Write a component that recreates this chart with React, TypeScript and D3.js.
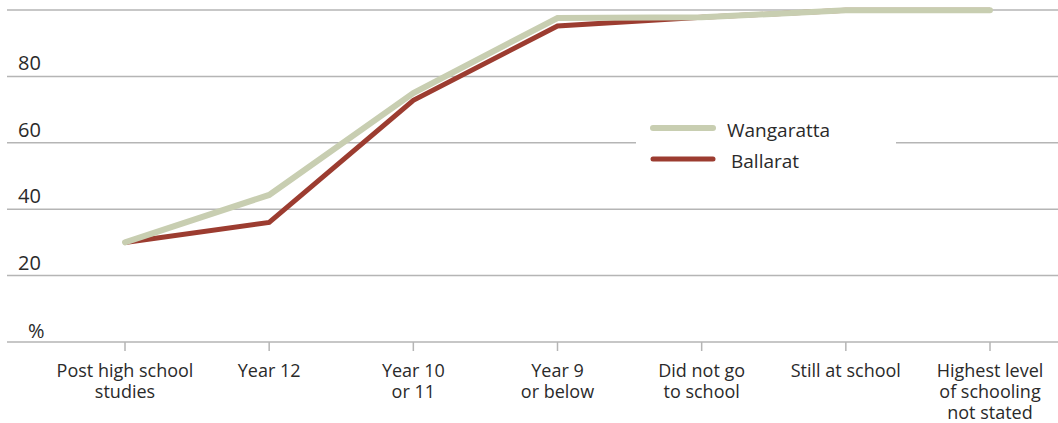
import React from "react";
import * as d3 from "d3";

const categories: string[][] = [
  ["Post high school", "studies"],
  ["Year 12"],
  ["Year 10", "or 11"],
  ["Year 9", "or below"],
  ["Did not go", "to school"],
  ["Still at school"],
  ["Highest level", "of schooling", "not stated"],
];
const wangaratta = [30, 44.3, 75, 97.6, 97.8, 99.9, 99.9];
const ballarat = [30, 36, 72.8, 95.2, 97.8, 99.9, 99.9];
const yTicks = [20, 40, 60, 80, 100];
const yTickLabels = ["20", "40", "60", "80", ""];

const W = 1058;
const H = 423;
const FONT = "'Open Sans', sans-serif";

export default function App() {
  const x = d3
    .scalePoint<number>()
    .domain(categories.map((_, i) => i))
    .range([125, 990]);
  const y = d3.scaleLinear().domain([0, 100]).range([342, 10]);
  const line = d3
    .line<number>()
    .x((_, i) => x(i)!)
    .y((d) => y(d));

  return (
    <svg
      width={W}
      height={H}
      style={{ position: "absolute", left: 0, top: 0, background: "#fff" }}
    >
      {yTicks.map((t) => (
        <line
          key={t}
          x1={7}
          x2={W}
          y1={y(t)}
          y2={y(t)}
          stroke="#b5b5b5"
          strokeWidth={1.5}
        />
      ))}
      <line x1={7} x2={W} y1={y(0)} y2={y(0)} stroke="#b5b5b5" strokeWidth={1.5} />
      {yTicks.map((t, i) => (
        <text
          key={"l" + t}
          x={18}
          y={y(t) - 6}
          fontFamily={FONT}
          fontSize={20}
          fill="#2a2a2a"
        >
          {yTickLabels[i]}
        </text>
      ))}
      <text x={28} y={338} fontFamily={FONT} fontSize={20} fill="#2a2a2a">
        %
      </text>
      {categories.map((c, i) => (
        <g key={"x" + i}>
          <line
            x1={x(i)}
            x2={x(i)}
            y1={y(0)}
            y2={y(0) + 9}
            stroke="#b5b5b5"
            strokeWidth={1.5}
          />
          <text
            x={x(i)}
            y={377}
            textAnchor="middle"
            fontFamily={FONT}
            fontSize={18}
            fill="#2a2a2a"
          >
            {c.map((s, j) => (
              <tspan key={j} x={x(i)} dy={j === 0 ? 0 : 21}>
                {s}
              </tspan>
            ))}
          </text>
        </g>
      ))}
      <rect x={636} y={108} width={260} height={68} fill="#fff" />
      <line x1={653} x2={713} y1={128} y2={128} stroke="#c8ceb1" strokeWidth={6} strokeLinecap="round" />
      <line x1={653} x2={713} y1={159} y2={159} stroke="#9c3c30" strokeWidth={5} strokeLinecap="round" />
      <text x={727} y={137} fontFamily={FONT} fontSize={19} fill="#2a2a2a">
        Wangaratta
      </text>
      <text x={731} y={168} fontFamily={FONT} fontSize={19} fill="#2a2a2a">
        Ballarat
      </text>
      <path
        d={line(ballarat)!}
        fill="none"
        stroke="#9c3c30"
        strokeWidth={5}
        strokeLinejoin="miter"
      />
      <path
        d={line(wangaratta)!}
        fill="none"
        stroke="#c8ceb1"
        strokeWidth={6}
        strokeLinecap="round"
        strokeLinejoin="miter"
      />
    </svg>
  );
}
